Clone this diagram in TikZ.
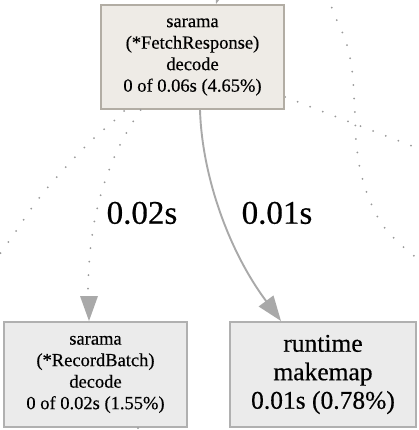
\documentclass[tikz,border=0pt]{standalone}
\usepackage{fontspec}
\setmainfont{Liberation Serif}
\newfontfamily\boxfont[FakeBold=0.4]{Liberation Serif}
\usetikzlibrary{arrows.meta}
\definecolor{topfill}{HTML}{EEEBE6}
\definecolor{topdraw}{HTML}{B2ADA4}
\definecolor{botfill}{HTML}{EBEBEB}
\definecolor{botdraw}{HTML}{B0B0B0}
\definecolor{edgegray}{HTML}{A9A9A9}
\definecolor{dotgray}{HTML}{999999}
\tikzset{
  gbox/.style={draw, line width=2pt, inner sep=0pt, align=center, text=black},
  topbox/.style={gbox, fill=topfill, draw=topdraw, minimum width=183pt, minimum height=104pt, font=\boxfont\fontsize{18.5}{21.5}\selectfont},
  smallbox/.style={gbox, fill=botfill, draw=botdraw, minimum width=183pt, minimum height=105pt, font=\boxfont\fontsize{18.5}{21.5}\selectfont},
  bigbox/.style={gbox, fill=botfill, draw=botdraw, minimum width=186pt, minimum height=105pt, font=\boxfont\fontsize{25.5}{28.5}\selectfont},
  bigtip/.style={-{Triangle[length=25pt,width=18pt]}},
  solidedge/.style={draw=edgegray, line width=1.9pt, bigtip},
  dotedge/.style={draw=dotgray, line width=2pt, line cap=round, dash pattern=on 0pt off 13.5pt},
  elabel/.style={font=\boxfont\fontsize{33}{36}\selectfont, inner sep=0pt}
}
\begin{document}
\begin{tikzpicture}[x=1pt,y=-1pt]
\useasboundingbox (0,0) rectangle (418,430);
\clip (0,0) rectangle (418,430);
\fill[white] (0,0) rectangle (418,430);

% dotted connectors
\draw[dotedge] plot[smooth] coordinates {(327,-5) (335,16) (346,42) (352,70) (355,113) (356,140) (360,169) (368,196) (381,223) (399,243) (425,265)};
\draw[dotedge] (285,97) -- (420,149);
\draw[dotedge] plot[smooth] coordinates {(124,111) (115,120) (93,139) (63,170) (36,202) (12,237) (-6,262)};

\node[topbox] (top) at (192.5,57) {sarama\\(*FetchResponse)\\decode\\0 of 0.06s (4.65\%)};
\node[smallbox] (left) at (95.5,374.5) {sarama\\(*RecordBatch)\\decode\\0 of 0.02s (1.55\%)};
\node[bigbox] (right) at (323,374.5) {runtime\\makemap\\0.01s (0.78\%)};

\coordinate (above) at (232,-45);
\coordinate (below) at (138,445);

% edge from above into top box
\draw[solidedge] (above) -- ([xshift=23.5pt]top.north);

% solid edge top -> right
\draw[solidedge] ([xshift=7.5pt]top.south) .. controls (202,175) and (228,250) .. ([xshift=-42pt]right.north);

% dotted edge top -> left
\draw[dotedge] ([xshift=-52pt]top.south) .. controls (100,170) and (88,230) .. (88,297);
\fill[edgegray] ([xshift=-6.5pt]left.north) -- ++(-9,-25) -- ++(18,0) -- cycle;

% dotted edge out of left box
\draw[dotedge] ([xshift=42.5pt]left.south) -- (below);

\node[elabel] (l1) at (142,213) {0.02s};
\node[elabel] (l2) at (277,213) {0.01s};
\end{tikzpicture}
\end{document}
